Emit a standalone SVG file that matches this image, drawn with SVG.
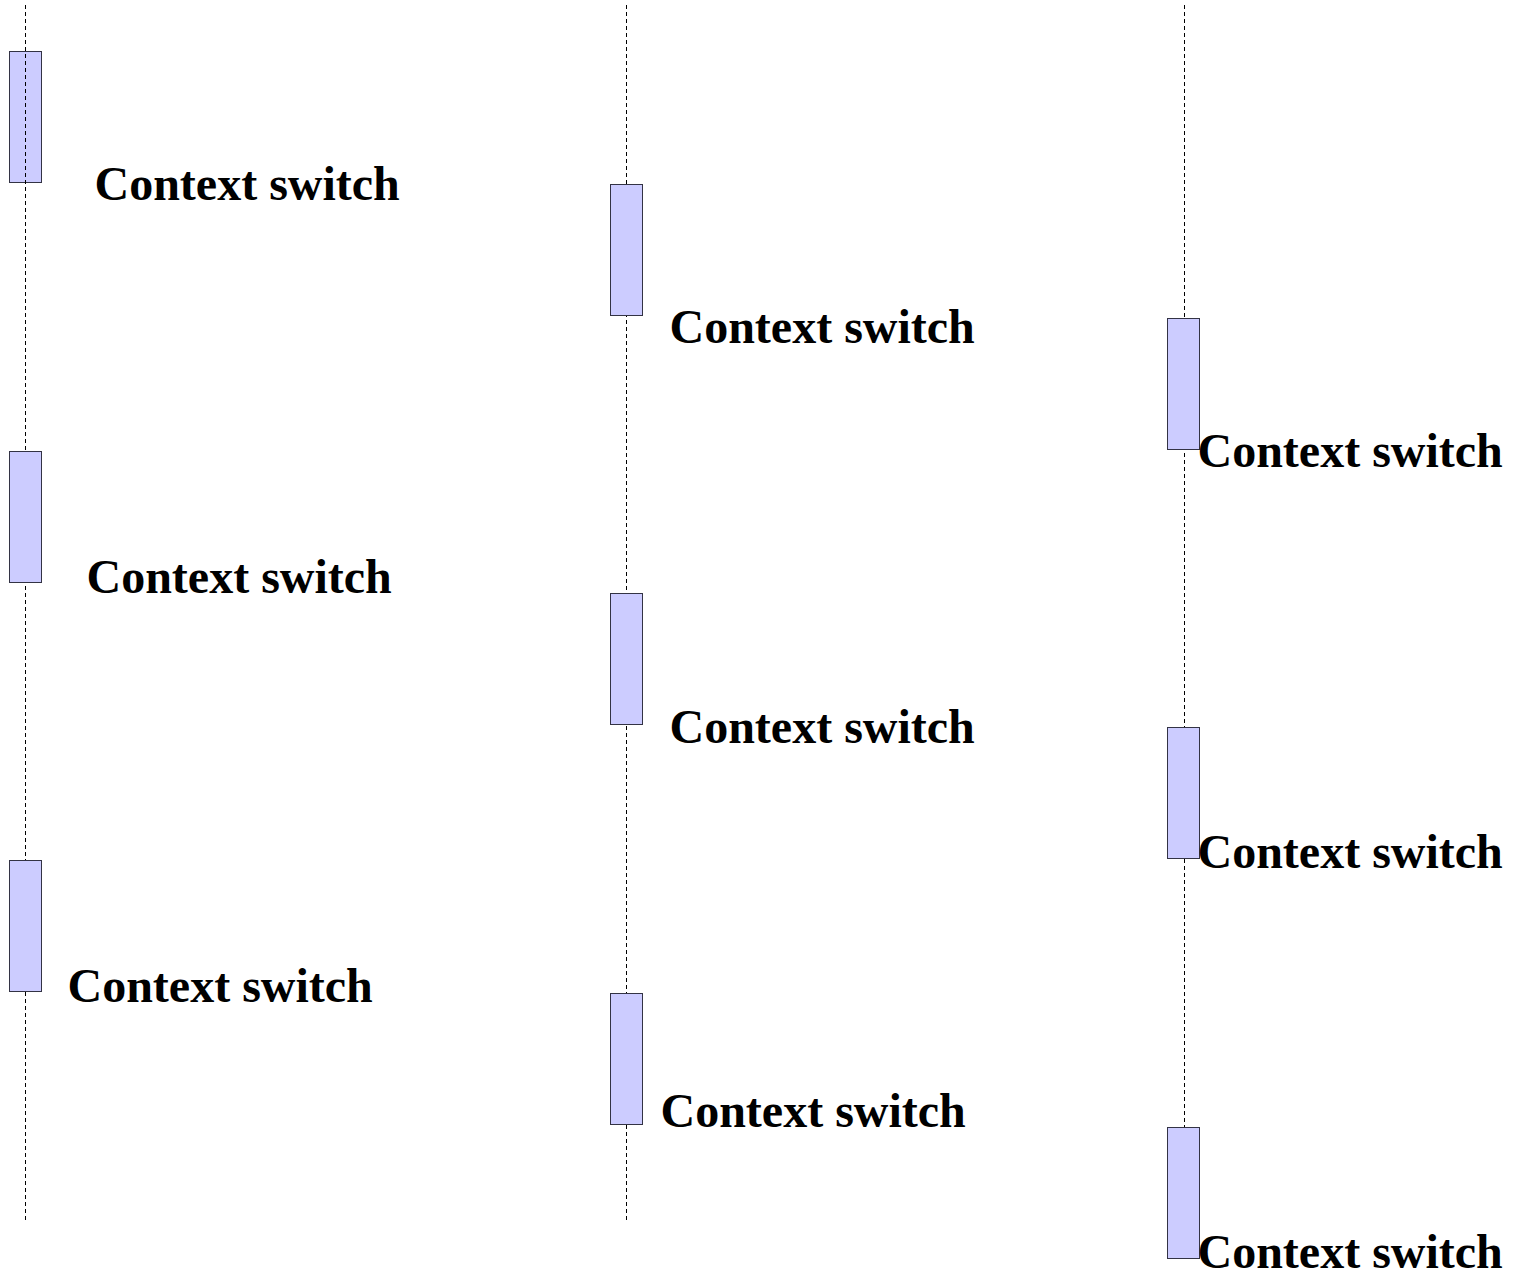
<svg xmlns="http://www.w3.org/2000/svg" width="1517" height="1272" viewBox="0 0 1517 1272">
<style>
.bar{fill:#ccccff;stroke:#333344;stroke-width:1}
.life{stroke:#000;stroke-width:1;stroke-dasharray:4 3;fill:none}
.lbl{font-family:"Liberation Serif","Times New Roman",serif;font-weight:bold;font-size:48px;fill:#000}
</style>
<rect width="1517" height="1272" fill="#fff"/>
<g id="act1a"><rect class="bar" x="9.5" y="51.5" width="32" height="131"/></g>
<g id="lifelines">
<line class="life" x1="25.5" y1="5" x2="25.5" y2="1222"/>
<line class="life" x1="626.5" y1="5" x2="626.5" y2="1222"/>
<line class="life" x1="1184.5" y1="5" x2="1184.5" y2="1127"/>
</g>
<g id="act1b"><rect class="bar" x="9.5" y="451.5" width="32" height="131"/></g>
<g id="act1c"><rect class="bar" x="9.5" y="860.5" width="32" height="131"/></g>
<g id="act2a"><rect class="bar" x="610.5" y="184.5" width="32" height="131"/></g>
<g id="act2b"><rect class="bar" x="610.5" y="593.5" width="32" height="131"/></g>
<g id="act2c"><rect class="bar" x="610.5" y="993.5" width="32" height="131"/></g>
<g id="act3a"><rect class="bar" x="1167.5" y="318.5" width="32" height="131"/></g>
<g id="act3b"><rect class="bar" x="1167.5" y="727.5" width="32" height="131"/></g>
<g id="act3c"><rect class="bar" x="1167.5" y="1127.5" width="32" height="131"/></g>
<g id="labels">
<text class="lbl" x="94.5" y="200">Context switch</text>
<text class="lbl" x="669.5" y="343">Context switch</text>
<text class="lbl" x="1197.5" y="467">Context switch</text>
<text class="lbl" x="86.5" y="593">Context switch</text>
<text class="lbl" x="669.5" y="743">Context switch</text>
<text class="lbl" x="1197.5" y="868">Context switch</text>
<text class="lbl" x="67.5" y="1002">Context switch</text>
<text class="lbl" x="660.5" y="1127">Context switch</text>
<text class="lbl" x="1197.5" y="1268">Context switch</text>
</g>
</svg>
